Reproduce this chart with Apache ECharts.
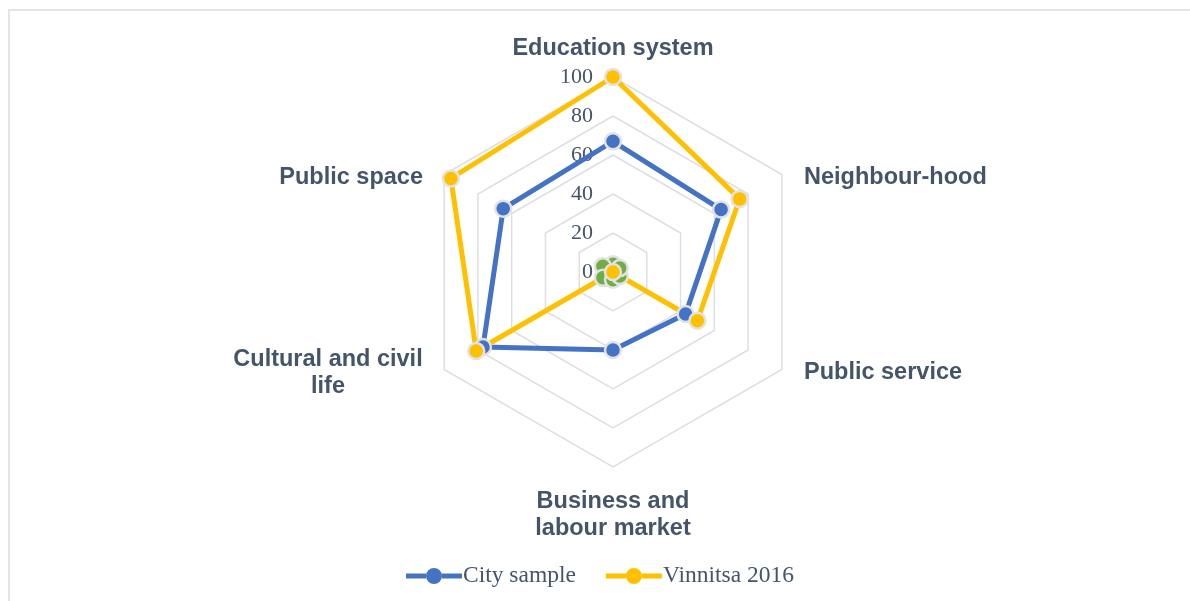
<!DOCTYPE html>
<html>
<head>
<meta charset="utf-8">
<script src="https://cdn.jsdelivr.net/npm/echarts@6/dist/echarts.min.js"></script>
<style>
  html, body { margin: 0; padding: 0; background: #fff; }
  #frame { position: absolute; left: 8px; top: 9px; width: 1300px; height: 700px; border: 2px solid #e2e4ea; }
  #chart { position: absolute; left: 0; top: 0; width: 1190px; height: 601px; }
</style>
</head>
<body>
<div id="frame"></div>
<div id="chart"></div>
<script>
// indicator names, clockwise from the top (as in the picture)
const indicators = ['Education system', 'Neighbour-hood', 'Public service',
  'Business and\nlabour market', 'Cultural and civil\nlife', 'Public space'];
const axisMax = 100;

// series values, same clockwise order as indicators
const cityValues = [67, 64, 43, 40, 77, 65];
const vinnitsaValues = [100, 75, 50, 0, 81, 96];
const baseValues = [4, 4, 4, 4, 6, 6];

const legendNames = ['City sample', 'Vinnitsa 2016'];

const textColor = '#44546A';
const cx = 613, cy = 272, radius = 195;

// echarts lays radar axes counter-clockwise, so walk the arrays the other way
const order = [0, 5, 4, 3, 2, 1];
const ccw = arr => order.map(i => arr[i]);

// where the axis titles sit (Excel style, not radial)
const namePlaces = [
  {x: cx, y: 49, align: 'center'},
  {x: 804, y: 178, align: 'left'},
  {x: 804, y: 373, align: 'left'},
  {x: cx, y: 515, align: 'center'},
  {x: 328, y: 373, align: 'center'},
  {x: 423, y: 178, align: 'right'}
];

const legendIcon = 'path://M0,6.5H20V11.5H0Z M20,9A8,8 0 1,1 36,9A8,8 0 1,1 20,9Z M36,6.5H56V11.5H36Z';

const chart = echarts.init(document.getElementById('chart'));

const mkSeries = (name, values, color) => ({
  name: name,
  type: 'radar',
  symbol: 'circle',
  symbolSize: 16,
  lineStyle: {width: 5, color: color},
  itemStyle: {color: color, borderColor: '#e2e2e2', borderWidth: 2.5},
  data: [{value: ccw(values), name: name}]
});

const option = {
  animation: false,
  legend: {
    data: legendNames.map(n => ({name: n, icon: legendIcon})),
    left: 401,
    top: 559,
    itemWidth: 56,
    itemHeight: 18,
    itemGap: 30,
    itemStyle: {borderWidth: 0},
    textStyle: {fontFamily: 'Liberation Serif', fontSize: 23.5, color: textColor, padding: [0, 0, 0, -4]}
  },
  radar: {
    center: [cx, cy],
    radius: radius,
    startAngle: 90,
    shape: 'polygon',
    splitNumber: 5,
    indicator: ccw(indicators).map((n, i) => ({
      name: n,
      min: 0,
      max: axisMax,
      axisLabel: i === 0 ? {show: true} : undefined
    })),
    axisName: {show: false},
    axisLine: {show: false},
    axisTick: {show: false},
    axisLabel: {
      show: false,
      margin: 20,
      fontFamily: 'Liberation Serif',
      fontSize: 22,
      color: textColor
    },
    splitLine: {lineStyle: {color: '#dcdfe6', width: 1.5}},
    splitArea: {show: false}
  },
  graphic: indicators.map((n, i) => ({
    type: 'text',
    style: {
      text: n,
      x: namePlaces[i].x,
      y: namePlaces[i].y,
      align: namePlaces[i].align,
      verticalAlign: 'middle',
      lineHeight: 27,
      font: 'bold 23.5px "Liberation Sans", Arial, sans-serif',
      fill: textColor
    }
  })),
  series: [
    mkSeries('Base', baseValues, '#70AD47'),
    mkSeries(legendNames[0], cityValues, '#4472C4'),
    mkSeries(legendNames[1], vinnitsaValues, '#FFC000')
  ]
};

chart.setOption(option);
</script>
</body>
</html>
